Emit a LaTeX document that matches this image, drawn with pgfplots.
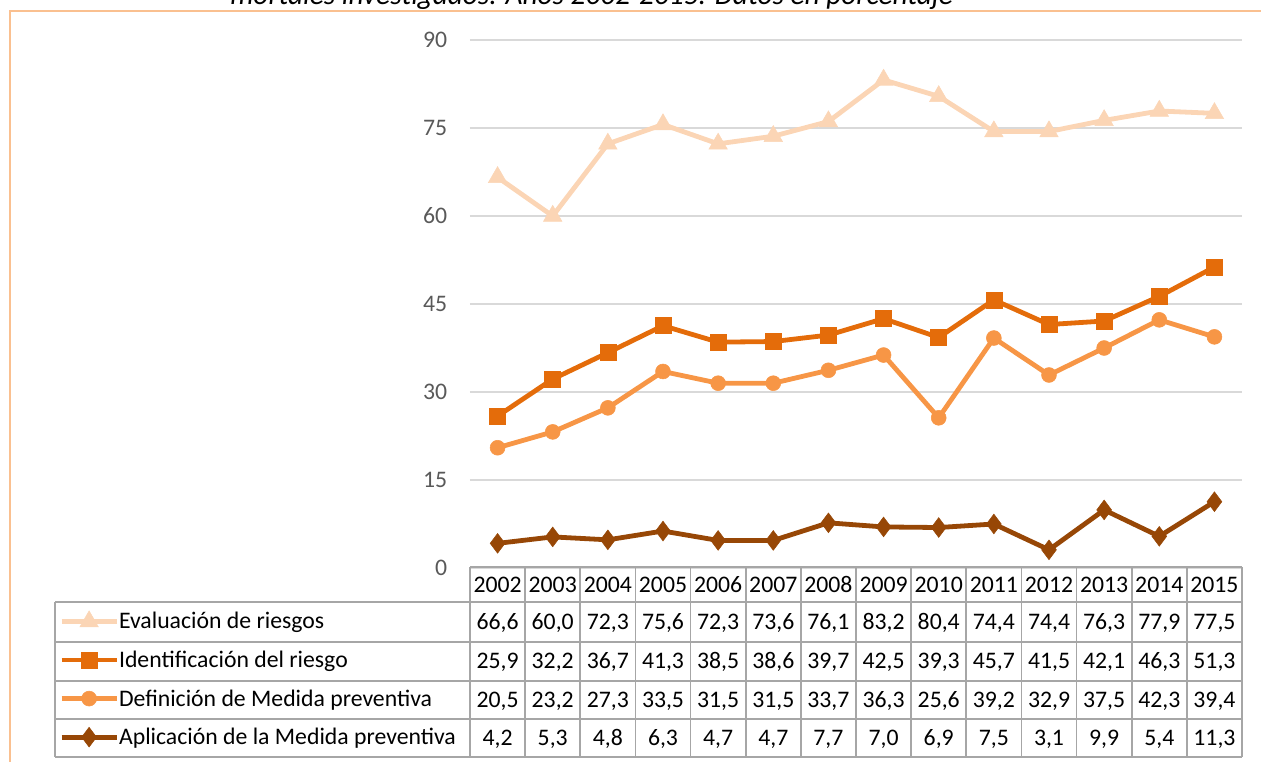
\documentclass[border=0pt]{standalone}
\usepackage{pgfplots}
\pgfplotsset{compat=1.18}
\usepackage{pgfplotstable}
\usepackage{fontspec}
\setmainfont{Carlito}

\definecolor{evalc}{HTML}{FBD5B5}
\definecolor{identc}{HTML}{E46C0A}
\definecolor{definc}{HTML}{F79646}
\definecolor{aplicc}{HTML}{974706}
\definecolor{framec}{HTML}{FAC090}
\definecolor{gridc}{HTML}{D9D9D9}
\definecolor{tickc}{HTML}{595959}
\definecolor{tablec}{HTML}{A6A6A6}

\newcommand\tabfont{\fontsize{17.8}{20}\selectfont}

% percentages per year
\pgfplotstableread{
x year eval ident defin aplic
0 2002 66.6 25.9 20.5 4.2
1 2003 60.0 32.2 23.2 5.3
2 2004 72.3 36.7 27.3 4.8
3 2005 75.6 41.3 33.5 6.3
4 2006 72.3 38.5 31.5 4.7
5 2007 73.6 38.6 31.5 4.7
6 2008 76.1 39.7 33.7 7.7
7 2009 83.2 42.5 36.3 7.0
8 2010 80.4 39.3 25.6 6.9
9 2011 74.4 45.7 39.2 7.5
10 2012 74.4 41.5 32.9 3.1
11 2013 76.3 42.1 37.5 9.9
12 2014 77.9 46.3 42.3 5.4
13 2015 77.5 51.3 39.4 11.3
}\datatable

\begin{document}
\begin{tikzpicture}
\begin{axis}[
  at={(352.5pt,-426pt)}, anchor=south west,
  scale only axis, width=579pt, height=396pt,
  xmin=-0.5, xmax=13.5, ymin=0, ymax=90,
  xtick=\empty, ytick={0,15,...,90},
  ymajorgrids, grid style={gridc, line width=1.1pt},
  axis line style={draw=none}, major tick style={draw=none},
  yticklabel style={font=\tabfont, color=tickc, inner sep=0pt, xshift=-17pt},
  /pgf/number format/assume math mode=true,
  clip=false,
  legend style={at={(axis description cs:-0.5324,-0.0644)}, anchor=north west,
    draw=none, fill=none, inner sep=0pt, font=\tabfont,
    nodes={inner sep=0pt, text height=20pt, text depth=8.9pt},
    row sep=0pt, column sep=0pt},
  legend cell align=left,
  legend image code/.code={%
    \draw[mark repeat=2, mark phase=2, #1] plot coordinates {(0pt,0pt) (20.6pt,0pt) (41.25pt,0pt)};},
]
\addplot[evalc, line width=3.6pt, mark=triangle*, mark size=8pt, mark options={line width=0.4pt}]
  table[x=x, y=eval] {\datatable};
\addlegendentry{Evaluación de riesgos}
\addplot[identc, line width=3.6pt, mark=square*, mark size=6pt, mark options={line width=0.4pt}]
  table[x=x, y=ident] {\datatable};
\addlegendentry{Identificación del riesgo}
\addplot[definc, line width=3.6pt, mark=*, mark size=5.6pt, mark options={line width=0.4pt}]
  table[x=x, y=defin] {\datatable};
\addlegendentry{Definición de Medida preventiva}
\addplot[aplicc, line width=3.6pt, mark=diamond*, mark size=7.4pt, mark options={line width=0.4pt}]
  table[x=x, y=aplic] {\datatable};
\addlegendentry{Aplicación de la Medida preventiva}
\end{axis}

% pixel frame: origin top left, y downwards
\begin{scope}[x=0.75pt, y=-0.75pt]
  \draw[framec, line width=1.2pt] (10,762) -- (10,11) -- (1261,11);
  \node[anchor=base west, inner sep=0pt, font=\fontsize{22}{24}\selectfont\itshape] at (230,5)
    {mortales investigados. Años 2002-2015. Datos en porcentaje};

  % data table
  \begin{scope}[tablec, line width=1.2pt]
    \draw (470,567) -- (1242,567);
    \foreach \yy in {602,642,681,719,757} \draw (55,\yy) -- (1242,\yy);
    \draw (55,602) -- (55,757);
    \foreach \k in {0,...,14} \draw ({470+55.143*\k},567) -- ({470+55.143*\k},757);
  \end{scope}
  \foreach \i in {0,...,13}{
    \pgfmathsetmacro\cx{497.57+55.143*\i}
    \pgfplotstablegetelem{\i}{year}\of\datatable
    \node[anchor=base, inner sep=0pt, font=\tabfont] at (\cx,592.5) {\pgfplotsretval};
    \foreach \c/\yy in {eval/629.5, ident/669, defin/707.5, aplic/745.5}{
      \pgfplotstablegetelem{\i}{\c}\of\datatable
      \node[anchor=base, inner sep=0pt, font=\tabfont] at (\cx,\yy)
        {\pgfmathprintnumber[fixed, fixed zerofill, precision=1, use comma, assume math mode=true]{\pgfplotsretval}};
    }
  }
  \pgfresetboundingbox
  \path[use as bounding box] (0,0) rectangle (1261,762);
\end{scope}
\end{tikzpicture}
\end{document}
